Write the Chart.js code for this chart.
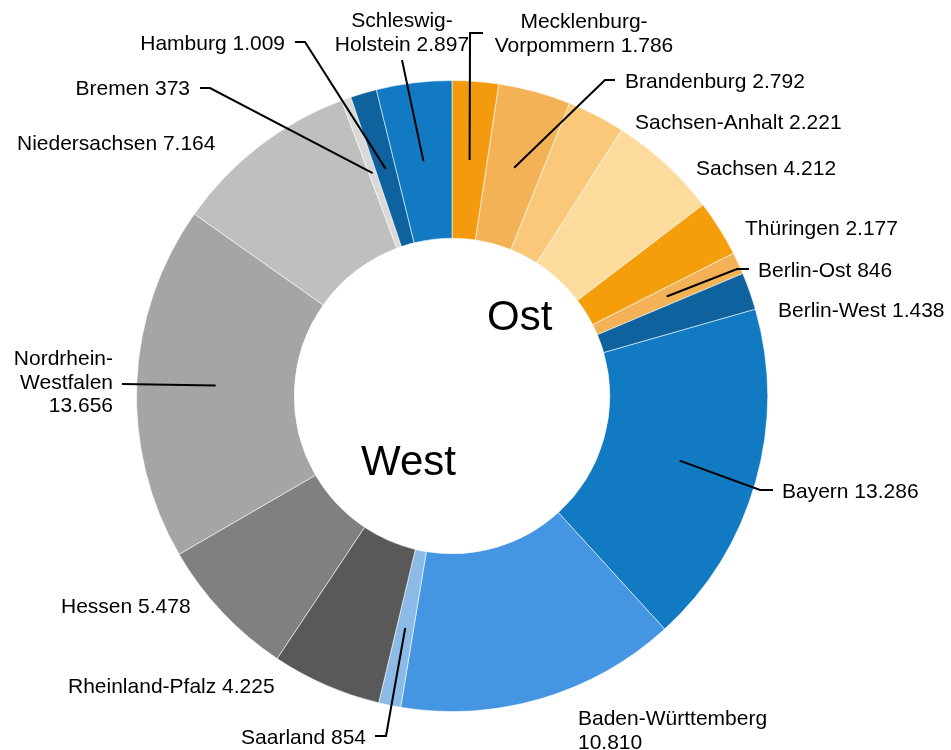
<!DOCTYPE html>
<html>
<head>
<meta charset="utf-8">
<script src="https://cdn.jsdelivr.net/npm/chart.js@4.4.1/dist/chart.umd.min.js"></script>
<style>
  html, body { margin: 0; padding: 0; background: #fff; }
  #wrap { width: 951px; height: 750px; }
</style>
</head>
<body>
<div id="wrap"><canvas id="chart" width="951" height="750"></canvas></div>
<script>
// Bundeslaender, clockwise from 12 o'clock
const laender = [
  'Mecklenburg-Vorpommern', 'Brandenburg', 'Sachsen-Anhalt', 'Sachsen', 'Thüringen',
  'Berlin-Ost', 'Berlin-West', 'Bayern', 'Baden-Württemberg', 'Saarland',
  'Rheinland-Pfalz', 'Hessen', 'Nordrhein-Westfalen', 'Niedersachsen', 'Bremen',
  'Hamburg', 'Schleswig-Holstein'
];
const einwohner = [
  1786, 2792, 2221, 4212, 2177,
  846, 1438, 13286, 10810, 854,
  4225, 5478, 13656, 7164, 373,
  1009, 2897
];
const farben = [
  '#F39A0E', '#F4B257', '#F9C878', '#FDDB9C', '#F59E0B',
  '#F4B257', '#0E639E', '#117AC2', '#4495E2', '#8BBBE6',
  '#595959', '#808080', '#A5A5A5', '#BFBFBF', '#D9D9D9',
  '#0E639E', '#117AC2'
];

// label placement: x/y = first baseline, wrap: h = break after hyphen, v = value on own line
const labelLayout = [
  { x: 584, y: 28, align: 'center', wrap: 'h', elbow: [470, 33], end: [483, 33] },
  { x: 625, y: 88, align: 'left', elbow: [605, 80], end: [615, 80] },
  { x: 635, y: 129, align: 'left' },
  { x: 696, y: 175, align: 'left' },
  { x: 745, y: 235, align: 'left' },
  { x: 758, y: 277, align: 'left', elbow: [737, 269], end: [749, 269] },
  { x: 778, y: 317, align: 'left' },
  { x: 782, y: 498, align: 'left', elbow: [760, 490], end: [773, 490] },
  { x: 578, y: 725, align: 'left', wrap: 'v' },
  { x: 366, y: 744, align: 'right', elbow: [386, 736], end: [375, 736] },
  { x: 68, y: 693, align: 'left' },
  { x: 61, y: 613, align: 'left' },
  { x: 113, y: 365, align: 'right', wrap: 'hv', end: [122, 384] },
  { x: 17, y: 150, align: 'left' },
  { x: 190, y: 95, align: 'right', elbow: [210, 88], end: [200, 88] },
  { x: 285, y: 50, align: 'right', elbow: [305, 42], end: [295, 42] },
  { x: 402, y: 27, align: 'center', wrap: 'h', end: [402, 60] }
];

function fmt(n) {
  return String(n).replace(/\B(?=(\d{3})+(?!\d))/g, '.');
}

function labelLines(name, value, wrap) {
  let parts = [name];
  if (wrap && wrap.includes('h')) {
    const i = name.indexOf('-');
    parts = [name.slice(0, i + 1), name.slice(i + 1)];
  }
  if (wrap && wrap.includes('v')) {
    parts.push(fmt(value));
  } else {
    parts[parts.length - 1] += ' ' + fmt(value);
  }
  return parts;
}

const labelPlugin = {
  id: 'leaderLabels',
  afterDraw(chart) {
    const ctx = chart.ctx;
    const meta = chart.getDatasetMeta(0);
    ctx.save();
    // leader lines
    ctx.strokeStyle = '#000';
    ctx.lineWidth = 2;
    meta.data.forEach((arc, i) => {
      const l = labelLayout[i];
      if (!l.end) return;
      const c = arc.getCenterPoint();
      ctx.beginPath();
      ctx.moveTo(c.x, c.y);
      if (l.elbow) ctx.lineTo(l.elbow[0], l.elbow[1]);
      ctx.lineTo(l.end[0], l.end[1]);
      ctx.stroke();
    });
    // labels
    ctx.fillStyle = '#000';
    ctx.font = '21px "Liberation Sans", Arial, sans-serif';
    ctx.textBaseline = 'alphabetic';
    laender.forEach((name, i) => {
      const l = labelLayout[i];
      ctx.textAlign = l.align;
      labelLines(name, einwohner[i], l.wrap).forEach((t, k) => {
        ctx.fillText(t, l.x, l.y + k * 23.5);
      });
    });
    // group titles in the hole
    ctx.font = '42px "Liberation Sans", Arial, sans-serif';
    ctx.textAlign = 'left';
    ctx.fillText('Ost', 487, 330);
    ctx.fillText('West', 361, 475);
    ctx.restore();
  }
};

new Chart(document.getElementById('chart').getContext('2d'), {
  type: 'doughnut',
  data: {
    labels: laender,
    datasets: [{
      data: einwohner,
      backgroundColor: farben,
      borderColor: 'rgba(255,255,255,0.55)',
      borderWidth: 1,
      hoverOffset: 0
    }]
  },
  options: {
    responsive: false,
    animation: false,
    cutout: '50%',
    layout: { padding: { left: 136, right: 183, top: 80, bottom: 38 } },
    plugins: {
      legend: { display: false },
      tooltip: { enabled: false }
    }
  },
  plugins: [labelPlugin]
});
</script>
</body>
</html>
